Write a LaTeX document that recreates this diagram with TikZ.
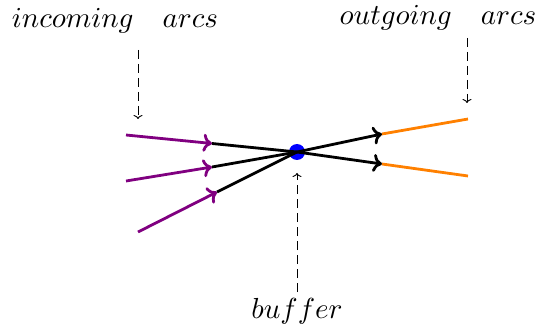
\documentclass[tikz,border=0pt]{standalone}
\usepackage{graphicx}
\usetikzlibrary{arrows.meta}
\definecolor{arcpurple}{RGB}{128,0,128}
\definecolor{arcorange}{RGB}{255,128,0}
\newcommand{\bigmath}[1]{\scalebox{2.9}{$#1$}}
\begin{document}
\begin{tikzpicture}[x=1pt,y=-1pt,
  arcline/.style={line width=2.8pt},
  headed/.style={arcline,-{To[length=9pt,width=18pt,line width=2.8pt]}},
  pointer/.style={line width=0.9pt,dash pattern=on 9pt off 5pt,-{To[length=4pt,width=9pt]}},
  lab/.style={inner sep=0pt},
  bufdot/.style={circle,fill=blue,inner sep=0pt,minimum size=16pt}]
\useasboundingbox (0,0) rectangle (543,331);
\node[bufdot] (buf) at (297,152) {};
% incoming
\coordinate (i1) at (126,135); \coordinate (m1) at (212,143.5);
\coordinate (i2) at (126,181); \coordinate (m2) at (212,167);
\coordinate (i3) at (138,232); \coordinate (m3) at (217,192);
\draw[headed,arcpurple] (i1) -- (m1);
\draw[headed,arcpurple] (i2) -- (m2);
\draw[headed,arcpurple] (i3) -- (m3);
\draw[arcline] (m1) -- (buf.center);
\draw[arcline] (m2) -- (buf.center);
\draw[arcline] (m3) -- (buf.center);
% outgoing
\coordinate (n1) at (382,134); \coordinate (o1) at (468,119);
\coordinate (n2) at (382,164); \coordinate (o2) at (468,176);
\draw[headed] (buf.center) -- (n1);
\draw[headed] (buf.center) -- (n2);
\draw[arcline,arcorange] (n1) -- (o1);
\draw[arcline,arcorange] (n2) -- (o2);
% labels
\node[lab] (lin) at (115,21) {\bigmath{incoming\quad arcs}};
\node[lab] (lout) at (438,18) {\bigmath{outgoing\quad arcs}};
\node[lab] (lbuf) at (297,311) {\bigmath{buffer}};
\coordinate (pin1) at (138,50); \coordinate (pin2) at (138,119);
\coordinate (pout1) at (467,38); \coordinate (pout2) at (467,103);
\coordinate (pb1) at (297,292); \coordinate (pb2) at (297,173);
\draw[pointer] (pin1) -- (pin2);
\draw[pointer] (pout1) -- (pout2);
\draw[pointer] (pb1) -- (pb2);
\end{tikzpicture}
\end{document}
